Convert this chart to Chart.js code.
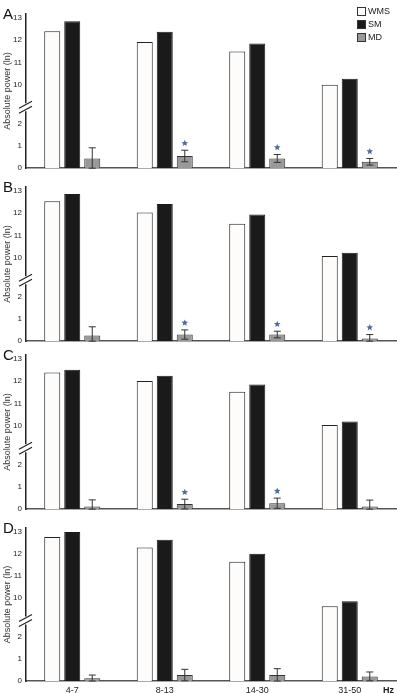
<!DOCTYPE html>
<html>
<head>
<meta charset="utf-8">
<script src="https://cdn.jsdelivr.net/npm/chart.js@4"></script>
<style>
  html, body { margin: 0; padding: 0; background: #fff; overflow: hidden; }
  body { width: 397px; height: 693px; position: relative; }
  canvas { position: absolute; left: 0; }
</style>
</head>
<body>
<canvas id="panelA" width="397" height="177" style="top:0px"></canvas>
<canvas id="panelB" width="397" height="177" style="top:173px"></canvas>
<canvas id="panelC" width="397" height="177" style="top:341px"></canvas>
<canvas id="panelD" width="397" height="179" style="top:514px"></canvas>
<script>
// frequency bands
var categories = ['4-7', '8-13', '14-30', '31-50'];
var seriesNames = ['WMS', 'SM', 'MD'];

// panel A
var wmsA = [12.40, 11.92, 11.49, 9.99];
var smA = [12.85, 12.38, 11.85, 10.26];
var mdA = [0.44, 0.55, 0.44, 0.29];
var errA = [0.48, 0.26, 0.18, 0.15];
var starA = [false, true, true, true];

// panel B
var wmsB = [12.54, 12.03, 11.53, 10.07];
var smB = [12.87, 12.42, 11.94, 10.22];
var mdB = [0.26, 0.30, 0.30, 0.12];
var errB = [0.39, 0.21, 0.15, 0.18];
var starB = [false, true, true, true];

// panel C
var wmsC = [12.39, 12.01, 11.53, 10.02];
var smC = [12.52, 12.25, 11.85, 10.18];
var mdC = [0.12, 0.23, 0.27, 0.12];
var errC = [0.30, 0.22, 0.23, 0.29];
var starC = [false, true, true, false];

// panel D
var wmsD = [12.77, 12.29, 11.65, 9.62];
var smD = [13.00, 12.65, 12.01, 9.85];
var mdD = [0.12, 0.27, 0.27, 0.21];
var errD = [0.15, 0.26, 0.29, 0.20];
var starD = [false, false, false, false];

// y tick labels (axis is broken between 2 and 9)
var lowTicks = [0, 1, 2];
var highTicks = [10, 11, 12, 13];

var GAP = 6.227;      // amount of value removed by the axis break
var YMAX = 6.955;     // top of the axis, in compressed units
var FONT = '"Liberation Sans", Arial, Helvetica, sans-serif';

function squeeze(v) { return v > 5 ? v - GAP : v; }

function drawStar(ctx, cx, cy, r, color) {
    ctx.beginPath();
    for (var i = 0; i < 10; i++) {
        var rad = i % 2 === 0 ? r : r * 0.45;
        var a = -Math.PI / 2 + i * Math.PI / 5;
        var px = cx + rad * Math.cos(a), py = cy + rad * Math.sin(a);
        if (i === 0) ctx.moveTo(px, py); else ctx.lineTo(px, py);
    }
    ctx.closePath();
    ctx.fillStyle = color;
    ctx.fill();
}

var decorPlugin = {
    id: 'decor',
    afterDatasetsDraw: function (chart, args, opts) {
        var ctx = chart.ctx, y = chart.scales.y;
        var meta = chart.getDatasetMeta(2);
        ctx.save();
        // error bars + significance stars
        meta.data.forEach(function (bar, i) {
            var v = opts.md[i], e = opts.err[i];
            var top = y.getPixelForValue(v + e);
            var bot = y.getPixelForValue(Math.max(0, v - e));
            ctx.strokeStyle = '#333';
            ctx.lineWidth = 1;
            ctx.beginPath();
            ctx.moveTo(bar.x, top); ctx.lineTo(bar.x, bot);
            ctx.moveTo(bar.x - 3.5, top); ctx.lineTo(bar.x + 3.5, top);
            ctx.moveTo(bar.x - 3.5, bot); ctx.lineTo(bar.x + 3.5, bot);
            ctx.stroke();
            if (opts.stars[i]) drawStar(ctx, bar.x, top - 7, 3.5, '#4d6f9c');
        });
        // axis break marks
        var yb = y.getPixelForValue(2.75);
        var ax = chart.chartArea.left;
        ctx.fillStyle = '#fff';
        ctx.fillRect(ax - 3, yb - 4, 6, 8);
        ctx.strokeStyle = '#222';
        ctx.lineWidth = 1.2;
        ctx.beginPath();
        ctx.moveTo(ax - 7, yb + 1); ctx.lineTo(ax + 6, yb - 6);
        ctx.moveTo(ax - 7, yb + 6); ctx.lineTo(ax + 6, yb - 1);
        ctx.stroke();
        ctx.restore();
    },
    afterDraw: function (chart, args, opts) {
        var ctx = chart.ctx, area = chart.chartArea;
        ctx.save();
        ctx.fillStyle = '#111';
        ctx.font = '15px ' + FONT;
        ctx.textBaseline = 'alphabetic';
        ctx.fillText(opts.letter, 3, area.top + 5);
        if (opts.legend) {
            var fills = ['#fdfcfa', '#1a1a1a', '#999'];
            ctx.font = '9px ' + FONT;
            ctx.textBaseline = 'middle';
            for (var i = 0; i < seriesNames.length; i++) {
                var by = 7 + i * 13;
                ctx.fillStyle = fills[i];
                ctx.fillRect(357, by, 9, 9);
                ctx.strokeStyle = '#333';
                ctx.lineWidth = 1;
                ctx.strokeRect(357.5, by + 0.5, 8, 8);
                ctx.fillStyle = '#222';
                ctx.fillText(seriesNames[i], 368, by + 5);
            }
        }
        if (opts.hz) {
            ctx.font = 'bold 9px ' + FONT;
            ctx.textBaseline = 'middle';
            ctx.fillStyle = '#222';
            ctx.fillText('Hz', 383, area.bottom + 10);
        }
        ctx.restore();
    }
};

function makePanel(id, letter, wms, sm, md, err, stars, showX) {
    var ctx = document.getElementById(id).getContext('2d');
    return new Chart(ctx, {
        type: 'bar',
        data: {
            labels: categories,
            datasets: [{
                label: seriesNames[0],
                data: wms.map(squeeze),
                backgroundColor: '#fdfcfa',
                borderColor: '#222',
                borderWidth: 1
            }, {
                label: seriesNames[1],
                data: sm.map(squeeze),
                backgroundColor: '#1a1a1a',
                borderColor: '#1a1a1a',
                borderWidth: 1
            }, {
                label: seriesNames[2],
                data: md,
                backgroundColor: '#999',
                borderColor: '#333',
                borderWidth: 1
            }]
        },
        options: {
            responsive: false,
            animation: false,
            devicePixelRatio: 1,
            barPercentage: 0.8,
            categoryPercentage: 0.649,
            layout: { padding: { top: 14, right: 1, left: 0, bottom: 0 } },
            plugins: {
                legend: { display: false },
                tooltip: { enabled: false },
                decor: { letter: letter, md: md, err: err, stars: stars, legend: letter === 'A', hz: showX }
            },
            scales: {
                x: {
                    grid: { display: false, drawTicks: false },
                    border: { display: true, color: '#555', width: 1.5 },
                    ticks: { display: showX, padding: 4, color: '#222', font: { size: 9, family: FONT } },
                    afterFit: function (scale) { scale.height = showX ? 12 : 6; }
                },
                y: {
                    min: 0,
                    max: YMAX,
                    grid: { display: false, drawTicks: false },
                    border: { display: true, color: '#222', width: 1.5 },
                    afterBuildTicks: function (scale) {
                        scale.ticks = lowTicks.concat(highTicks.map(squeeze)).map(function (v) { return { value: v }; });
                    },
                    ticks: {
                        padding: 4,
                        color: '#222',
                        font: { size: 8, family: FONT },
                        callback: function (v) { return v > 2.5 ? Math.round(v + GAP) : v; }
                    },
                    title: {
                        display: true,
                        text: 'Absolute power (ln)',
                        color: '#333',
                        padding: { top: 2, bottom: 0 },
                        font: { size: 9, family: FONT }
                    },
                    afterFit: function (scale) { scale.width = 26; }
                }
            }
        },
        plugins: [decorPlugin]
    });
}

document.addEventListener('DOMContentLoaded', function () {
    makePanel('panelA', 'A', wmsA, smA, mdA, errA, starA, false);
    makePanel('panelB', 'B', wmsB, smB, mdB, errB, starB, false);
    makePanel('panelC', 'C', wmsC, smC, mdC, errC, starC, false);
    makePanel('panelD', 'D', wmsD, smD, mdD, errD, starD, true);
});
</script>
</body>
</html>
